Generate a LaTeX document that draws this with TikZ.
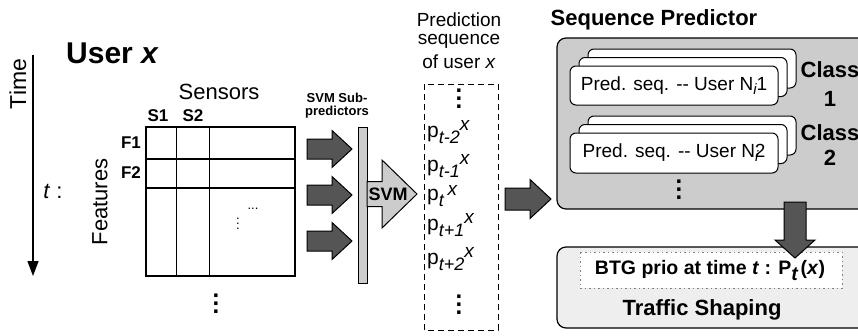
\documentclass[tikz,border=0pt]{standalone}
\usepackage{fontspec}
\setmainfont{Liberation Sans}
\usetikzlibrary{arrows.meta}
\definecolor{darkg}{HTML}{555555}
\definecolor{midg}{HTML}{CCCCCC}
\definecolor{lightg}{HTML}{EEEEEE}
\newcommand{\myfs}[1]{\fontsize{#1}{#1}\selectfont}
\newcommand{\myvdots}[1]{\vbox{\baselineskip=#1\lineskiplimit=-100pt\hbox{.}\hbox{.}\hbox{.}}}
\newcommand{\myHArrow}[7]{\draw[#1] ({#2},{#5-#6}) -- ({#3},{#5-#6}) -- ({#3},{#5-#7}) -- ({#4},{#5}) -- ({#3},{#5+#7}) -- ({#3},{#5+#6}) -- ({#2},{#5+#6}) -- cycle;}
\newcommand{\myVArrow}[7]{\draw[#1] ({#5-#6},{#2}) -- ({#5-#6},{#3}) -- ({#5-#7},{#3}) -- ({#5},{#4}) -- ({#5+#7},{#3}) -- ({#5+#6},{#3}) -- ({#5+#6},{#2}) -- cycle;}
\newcommand{\mysub}[1]{\raisebox{-6pt}{\myfs{18}\textit{#1}}}
\newcommand{\mysup}[1]{\raisebox{7pt}{\myfs{19}\textit{#1}}}
\tikzset{
  darkarrow/.style={draw=black, fill=darkg, line width=1pt, line join=miter},
  grayarrow/.style={draw=black, fill=midg, line width=1pt, line join=miter},
  gridline/.style={line width=1.2pt},
  stackbox/.style={draw, fill=white, rounded corners=6pt, line width=1pt},
  lbl/.style={inner sep=0pt},
  predtxt/.style={lbl, font=\myfs{21}, anchor=base west},
}
\begin{document}
\begin{tikzpicture}[x=1pt, y=-1pt]
\useasboundingbox (0,0) rectangle (858,335);
\clip (0,0) rectangle (858,335);

% time axis
\node[lbl, rotate=90, font=\myfs{23}] (time) at (18,84) {Time};
\coordinate (ts) at (33,55);
\coordinate (te) at (33,276);
\draw[line width=1.3pt, -{Triangle[width=11pt,length=15pt]}] (ts) -- (te);
\node[lbl, font=\myfs{22}] (tlab) at (53,191) {\textit{t} :};

\node[lbl, anchor=west, font=\myfs{30}\bfseries] (user) at (66,53) {User \textit{x}};

% matrix
\node[lbl, font=\myfs{22}] (sensors) at (219,92) {Sensors};
\node[lbl, font=\myfs{17}\bfseries] (s1) at (158,116) {S1};
\node[lbl, font=\myfs{17}\bfseries] (s2) at (193,116) {S2};
\node[lbl, font=\myfs{17}\bfseries] (f1) at (131,143) {F1};
\node[lbl, font=\myfs{17}\bfseries] (f2) at (131,173) {F2};
\node[lbl, rotate=90, font=\myfs{22}] (feat) at (100,202) {Features};
\draw[gridline] (146,127) rectangle (295,276);
\draw[gridline] (176.7,127) -- (176.7,276);
\draw[gridline] (209.7,127) -- (209.7,276);
\draw[gridline] (146,159) -- (295,159);
\draw[gridline] (146,188) -- (295,188);
\node[lbl, font=\myfs{13}] (idots) at (238,224) {\myvdots{5pt}};
\node[lbl, font=\myfs{13}] (hdots) at (253,209) {...};
\node[lbl, font=\myfs{24}\bfseries] (bdots) at (216,304) {\myvdots{8pt}};

% sub-predictors
\node[lbl, font=\myfs{13}\bfseries] (sub1) at (337,98) {SVM Sub-};
\node[lbl, font=\myfs{13}\bfseries] (sub2) at (337,112) {predictors};
\myHArrow{darkarrow}{307}{332}{352}{149}{10}{18.5}
\myHArrow{darkarrow}{307}{332}{352}{195}{10}{18.5}
\myHArrow{darkarrow}{307}{332}{352}{241}{10}{18.5}
\draw[grayarrow] (358,127) rectangle (367,283);
\myHArrow{grayarrow}{367}{382}{417}{194}{12.5}{34}
\node[lbl, font=\myfs{18}\bfseries] (svm) at (388,194) {SVM};

% prediction sequence
\node[lbl, font=\myfs{19}] (ph1) at (459,20) {Prediction};
\node[lbl, font=\myfs{19}] (ph2) at (459,41) {sequence};
\node[lbl, font=\myfs{19}] (ph3) at (459,62) {of user \textit{x}};
\draw[line width=1pt, dash pattern=on 6pt off 4pt] (424,84) rectangle (498,330);
\node[lbl, font=\myfs{24}\bfseries] (pd1) at (459,99) {\myvdots{8pt}};
\node[predtxt] (p1) at (427,137) {p\mysub{t-2}\mysup{x}};
\node[predtxt] (p2) at (427,171) {p\mysub{t-1}\mysup{x}};
\node[predtxt] (p3) at (427,200) {p\mysub{t}\kern3pt\raisebox{5pt}{\myfs{19}\textit{x}}};
\node[predtxt] (p4) at (427,230) {p\mysub{t+1}\mysup{x}};
\node[predtxt] (p5) at (427,264) {p\mysub{t+2}\mysup{x}};
\node[lbl, font=\myfs{24}\bfseries] (pd2) at (459,305) {\myvdots{8pt}};

\myHArrow{darkarrow}{505}{530}{551}{199}{11}{19.5}

% sequence predictor
\node[lbl, font=\myfs{22}\bfseries] (seqt) at (654,20) {Sequence Predictor};
\draw[line width=1.2pt, fill=midg, rounded corners=9pt] (557,38) rectangle (880,209);
\draw[stackbox] (588,49) rectangle (796,88);
\draw[stackbox] (579,57.5) rectangle (787,96.5);
\node[stackbox, minimum width=208pt, minimum height=39pt, inner sep=0pt, font=\myfs{19}] (c1) at (674,85.5) {Pred. seq. -{}- User N\raisebox{-4pt}{\myfs{15}\textit{i}}\kern-0.5pt 1};
\draw[stackbox] (588,116) rectangle (796,155);
\draw[stackbox] (579,124.5) rectangle (787,163.5);
\node[stackbox, minimum width=208pt, minimum height=40pt, inner sep=0pt, font=\myfs{19}] (c2) at (674,153) {Pred. seq. -{}- User N\raisebox{-4pt}{\myfs{15}\textit{i}}\kern-4pt 2};
\node[lbl, font=\myfs{22}\bfseries] (cl1) at (830,70) {Class};
\node[lbl, font=\myfs{22}\bfseries] (cl1n) at (830,99) {1};
\node[lbl, font=\myfs{22}\bfseries] (cl2) at (830,133) {Class};
\node[lbl, font=\myfs{22}\bfseries] (cl2n) at (830,158) {2};
\node[lbl, font=\myfs{24}\bfseries] (sdots) at (679,190) {\myvdots{8pt}};

% traffic shaping
\draw[line width=1.2pt, fill=lightg, rounded corners=9pt] (557,247) rectangle (880,328);
\draw[line width=1pt, fill=white, draw=gray, dash pattern=on 1.5pt off 3pt] (580,252) rectangle (842,288);
\node[lbl, font=\myfs{19.5}\bfseries] (btg) at (710,271) {BTG prio at time \textit{t} : P\raisebox{-6pt}{\textit{t}}\kern2pt(\textit{x})};
\node[lbl, font=\myfs{22}\bfseries] (ts2) at (702,310) {Traffic Shaping};
\myVArrow{darkarrow}{202}{240}{258}{795}{11}{20}
\end{tikzpicture}
\end{document}
